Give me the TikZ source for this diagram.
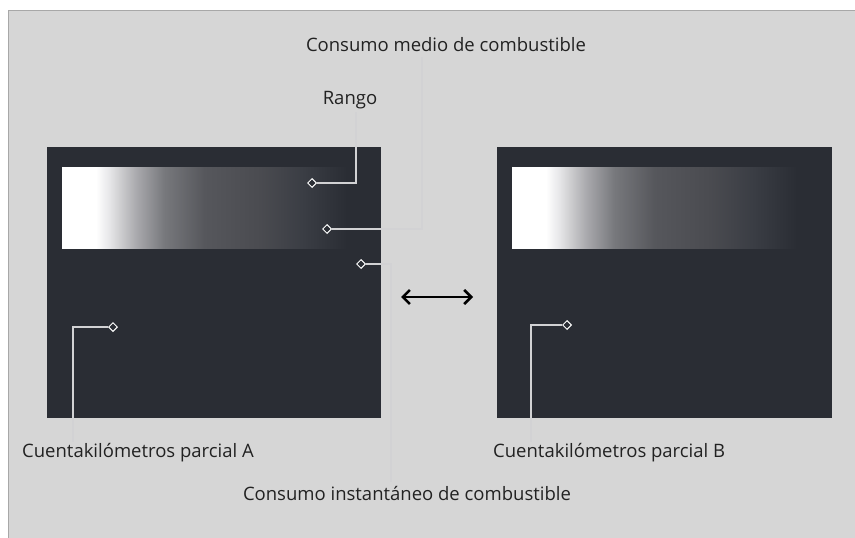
\documentclass[tikz,border=0pt]{standalone}
\usepackage{fontspec}
\setmainfont{Open Sans}
\usetikzlibrary{shapes.geometric,arrows.meta}
\definecolor{panel}{HTML}{D6D6D6}
\definecolor{panelline}{HTML}{A8A8A8}
\definecolor{screen}{HTML}{2A2D34}
\definecolor{leader}{HTML}{D2D2D4}
\definecolor{txt}{HTML}{222222}
\definecolor{g0}{HTML}{E8E8EA}
\definecolor{gA}{HTML}{CCCCCE}
\definecolor{gB}{HTML}{A9A9AD}
\definecolor{gC}{HTML}{77787C}
\definecolor{gD}{HTML}{56575C}
\definecolor{gE}{HTML}{4A4B50}
\definecolor{gF}{HTML}{3A3D44}
\pgfdeclarehorizontalshading{barshade}{100bp}{
  color(0bp)=(white); color(25bp)=(white); color(30.5bp)=(white); color(32.5bp)=(g0);
  color(34.5bp)=(gA); color(37bp)=(gB); color(41.5bp)=(gC); color(48bp)=(gD); color(57bp)=(gE);
  color(64bp)=(gF); color(71bp)=(screen); color(100bp)=(screen)}
\tikzset{
  lbl/.style={font=\fontsize{18.5}{20}\selectfont, text=txt, inner sep=0pt},
  leadline/.style={draw=leader, line width=1.8pt},
  tip/.style={diamond, draw=white, fill=screen, line width=1pt, inner sep=0pt, minimum width=9pt, minimum height=9pt},
  scr/.style={fill=screen},
}
\begin{document}
\begin{tikzpicture}[x=1pt,y=-1pt]
\useasboundingbox (0,0) rectangle (855,538);
\fill[white] (0,0) rectangle (855,538);
\fill[panel] (8,10) rectangle (855,538);
\draw[panelline, line width=1pt] (8,538) -- (8,10) -- (855,10);
% screens
\fill[scr] (47,147) rectangle (381,418);
\fill[scr] (497,147) rectangle (832,418);
\shade[shading=barshade] (62,167) rectangle (372,248);
\shade[shading=barshade] (512,167) rectangle (822,248);
% arrow
\coordinate (arrL) at (401,297);
\coordinate (arrR) at (473,297);
\draw[line width=2.6pt, {Straight Barb[length=7pt,width=14pt]}-{Straight Barb[length=7pt,width=14pt]}] (arrL) -- (arrR);
% labels
\node[lbl] (medio) at (446,45) {Consumo medio de combustible};
\node[lbl] (rango) at (350,100) {Rango};
\node[lbl, anchor=west] (cuA) at (22,453) {Cuentakilómetros parcial A};
\node[lbl, anchor=west] (cuB) at (493,453) {Cuentakilómetros parcial B};
\node[lbl] (inst) at (407,493) {Consumo instantáneo de combustible};
% tips
\node[tip] (tR) at (312,183) {};
\node[tip] (tM) at (327,229) {};
\node[tip] (tI) at (361,264) {};
\node[tip] (tA) at (113,327) {};
\node[tip] (tB) at (567,325) {};
% leaders
\draw[leadline] (tR.east) -- (356,183) -- (356,112);
\draw[leadline] (tM.east) -- (422,229) -- (422,57);
\draw[leadline] (tI.east) -- (391,264) -- (391,482);
\draw[leadline] (tA.west) -- (73,327) -- (73,442);
\draw[leadline] (tB.west) -- (531,325) -- (531,442);
\end{tikzpicture}
\end{document}
